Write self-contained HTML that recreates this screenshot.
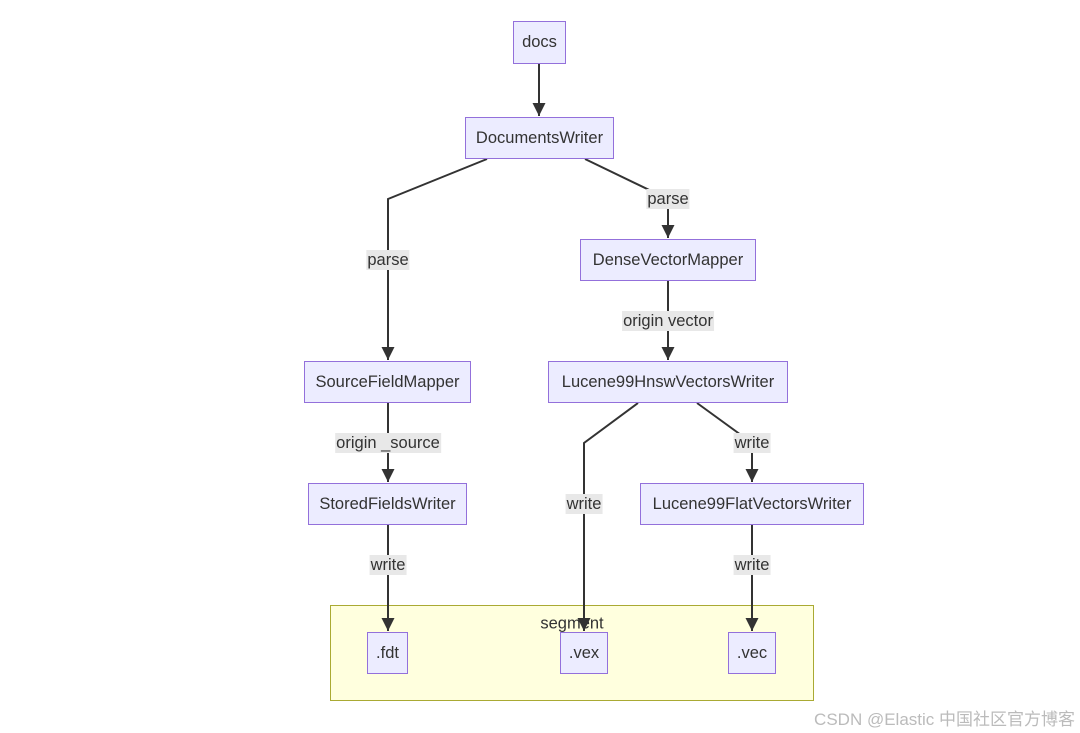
<!DOCTYPE html>
<html><head><style>
body{margin:0;width:1080px;height:733px;background:#fff;font-family:"Liberation Sans",Arial,sans-serif;overflow:hidden;position:relative}
.n{position:absolute;box-sizing:border-box;background:#ececff;border:1px solid #9370db;color:#333;font-size:16.5px;display:flex;align-items:center;justify-content:center}
.l{position:absolute;background:#e8e8e8;color:#333;font-size:16.5px;line-height:20px;padding:0 1px;transform:translate(-50%,-50%);white-space:nowrap}
</style></head><body>
<div style="position:absolute;left:330px;top:605px;width:484px;height:96px;box-sizing:border-box;background:#ffffde;border:1px solid #aaaa33"></div>
<div style="position:absolute;left:572px;top:624px;transform:translate(-50%,-50%);font-size:16.5px;color:#333">segment</div>
<svg width="1080" height="733" style="position:absolute;left:0;top:0">
<defs><marker id="a" markerWidth="14" markerHeight="14" refX="13" refY="7" orient="auto" markerUnits="userSpaceOnUse"><path d="M0,0.5L13,7L0,13.5z" fill="#333"/></marker></defs>
<g stroke="#333" stroke-width="2" fill="none" marker-end="url(#a)">
<path d="M539,64V116"/>
<path d="M487,159L388,199V360"/>
<path d="M585,159L668,199V238"/>
<path d="M668,281V360"/>
<path d="M388,403V482"/>
<path d="M638,403L584,443V631"/>
<path d="M697,403L752,443V482"/>
<path d="M388,525V631"/>
<path d="M752,525V631"/>
</g></svg>
<div class="n" style="left:513px;top:21px;width:53px;height:43px">docs</div>
<div class="n" style="left:465px;top:117px;width:149px;height:42px">DocumentsWriter</div>
<div class="n" style="left:580px;top:239px;width:176px;height:42px">DenseVectorMapper</div>
<div class="n" style="left:304px;top:361px;width:167px;height:42px">SourceFieldMapper</div>
<div class="n" style="left:548px;top:361px;width:240px;height:42px">Lucene99HnswVectorsWriter</div>
<div class="n" style="left:308px;top:483px;width:159px;height:42px">StoredFieldsWriter</div>
<div class="n" style="left:640px;top:483px;width:224px;height:42px">Lucene99FlatVectorsWriter</div>
<div class="n" style="left:367px;top:632px;width:41px;height:42px">.fdt</div>
<div class="n" style="left:560px;top:632px;width:48px;height:42px">.vex</div>
<div class="n" style="left:728px;top:632px;width:48px;height:42px">.vec</div>
<div class="l" style="left:388px;top:260px">parse</div>
<div class="l" style="left:668px;top:199px">parse</div>
<div class="l" style="left:668px;top:321px">origin vector</div>
<div class="l" style="left:388px;top:443px">origin _source</div>
<div class="l" style="left:584px;top:504px">write</div>
<div class="l" style="left:752px;top:443px">write</div>
<div class="l" style="left:388px;top:565px">write</div>
<div class="l" style="left:752px;top:565px">write</div>
<div style="position:absolute;right:5px;top:705px;font-size:17px;color:#bbb;font-family:'Liberation Sans','Noto Sans CJK SC',sans-serif">CSDN @Elastic 中国社区官方博客</div>
</body></html>
